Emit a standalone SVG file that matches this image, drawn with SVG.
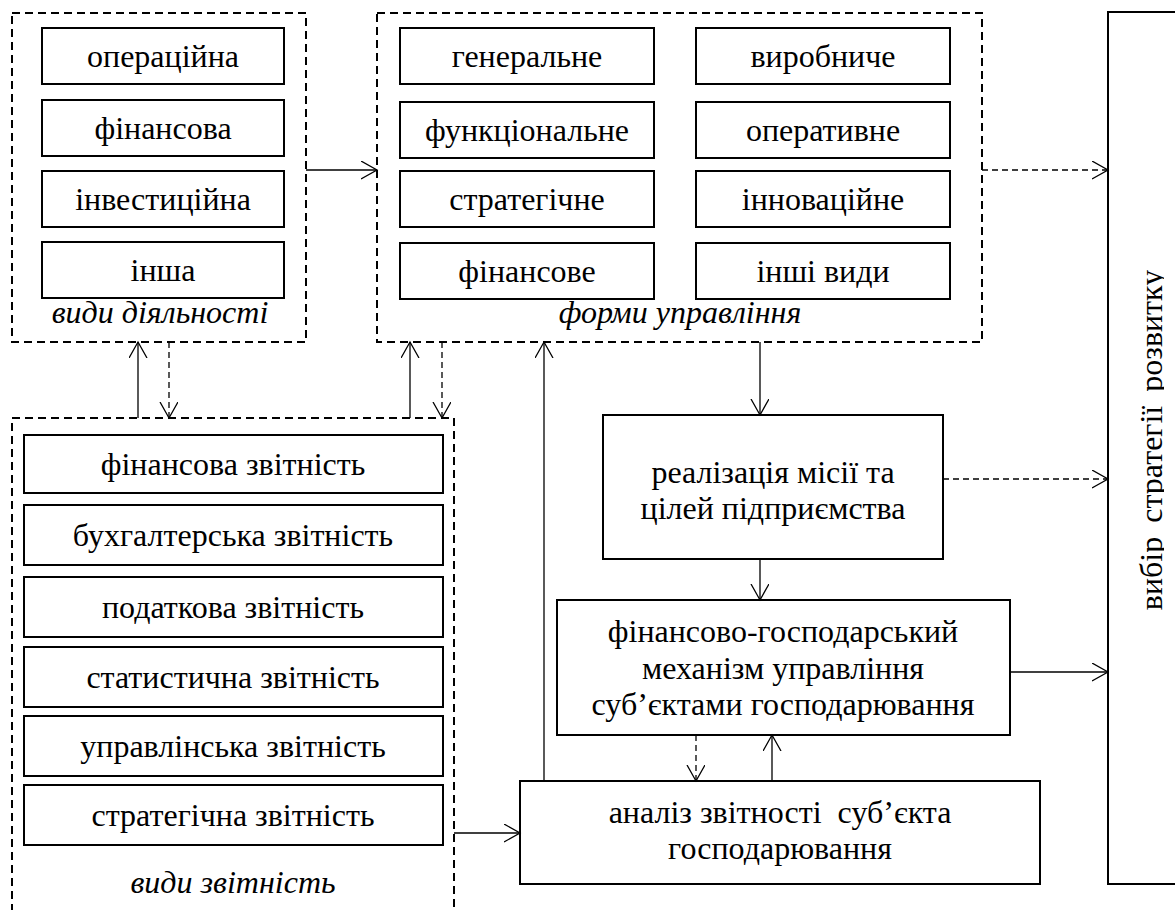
<svg xmlns="http://www.w3.org/2000/svg" width="1175" height="910" viewBox="0 0 1175 910">
<defs>
<marker id="ah" markerUnits="userSpaceOnUse" markerWidth="20" markerHeight="20" refX="16" refY="9" orient="auto"><path d="M0,0 L16,9 L0,18" fill="none" stroke="#000" stroke-width="1.3"/></marker>
<clipPath id="clipR"><rect x="1100" y="0" width="64" height="910"/></clipPath>
</defs>
<rect x="0" y="0" width="1175" height="910" fill="#fff"/>

<g id="activities" font-family="Liberation Serif, DejaVu Serif, serif" font-size="32" text-anchor="middle">
<rect x="12" y="13" width="294" height="329" fill="none" stroke="#000" stroke-width="2" stroke-dasharray="8 5"/>
<rect x="42" y="28" width="242" height="56" fill="#fff" stroke="#000" stroke-width="2"/>
<text x="163" y="67">операційна</text>
<rect x="42" y="100" width="242" height="56" fill="#fff" stroke="#000" stroke-width="2"/>
<text x="163" y="139">фінансова</text>
<rect x="42" y="171" width="242" height="56" fill="#fff" stroke="#000" stroke-width="2"/>
<text x="163" y="210">інвестиційна</text>
<rect x="42" y="242" width="242" height="56" fill="#fff" stroke="#000" stroke-width="2"/>
<text x="163" y="281">інша</text>
<text x="160" y="323" font-style="italic">види діяльності</text>
</g>

<g id="management" font-family="Liberation Serif, DejaVu Serif, serif" font-size="32" text-anchor="middle">
<rect x="377" y="13" width="605" height="329" fill="none" stroke="#000" stroke-width="2" stroke-dasharray="8 5"/>
<rect x="400" y="28" width="254" height="56" fill="#fff" stroke="#000" stroke-width="2"/>
<text x="527" y="67">генеральне</text>
<rect x="400" y="102" width="254" height="56" fill="#fff" stroke="#000" stroke-width="2"/>
<text x="527" y="141">функціональне</text>
<rect x="400" y="171" width="254" height="56" fill="#fff" stroke="#000" stroke-width="2"/>
<text x="527" y="210">стратегічне</text>
<rect x="400" y="243" width="254" height="56" fill="#fff" stroke="#000" stroke-width="2"/>
<text x="527" y="282">фінансове</text>
<rect x="696" y="28" width="254" height="56" fill="#fff" stroke="#000" stroke-width="2"/>
<text x="823" y="67">виробниче</text>
<rect x="696" y="102" width="254" height="56" fill="#fff" stroke="#000" stroke-width="2"/>
<text x="823" y="141">оперативне</text>
<rect x="696" y="171" width="254" height="56" fill="#fff" stroke="#000" stroke-width="2"/>
<text x="823" y="210">інноваційне</text>
<rect x="696" y="243" width="254" height="56" fill="#fff" stroke="#000" stroke-width="2"/>
<text x="823" y="282">інші види</text>
<text x="680" y="323" font-style="italic">форми управління</text>
</g>

<g id="reporting" font-family="Liberation Serif, DejaVu Serif, serif" font-size="32" text-anchor="middle">
<rect x="12" y="418" width="442" height="520" fill="none" stroke="#000" stroke-width="2" stroke-dasharray="8 5"/>
<rect x="24" y="435" width="419" height="58" fill="#fff" stroke="#000" stroke-width="2"/>
<text x="233" y="475">фінансова звітність</text>
<rect x="24" y="505" width="419" height="60" fill="#fff" stroke="#000" stroke-width="2"/>
<text x="233" y="546">бухгалтерська звітність</text>
<rect x="24" y="577" width="419" height="60" fill="#fff" stroke="#000" stroke-width="2"/>
<text x="233" y="618">податкова звітність</text>
<rect x="24" y="647" width="419" height="60" fill="#fff" stroke="#000" stroke-width="2"/>
<text x="233" y="688">статистична звітність</text>
<rect x="24" y="716" width="419" height="60" fill="#fff" stroke="#000" stroke-width="2"/>
<text x="233" y="757">управлінська звітність</text>
<rect x="24" y="785" width="419" height="60" fill="#fff" stroke="#000" stroke-width="2"/>
<text x="233" y="826">стратегічна звітність</text>
<text x="233" y="893" font-style="italic">види звітність</text>
</g>

<g id="strategy" font-family="Liberation Serif, DejaVu Serif, serif" font-size="32" text-anchor="middle">
<rect x="1108" y="12" width="100" height="872" fill="#fff" stroke="#000" stroke-width="2"/>
<g clip-path="url(#clipR)">
<text transform="translate(1162,440) rotate(-90)" x="0" y="0" word-spacing="6">вибір стратегії розвитку</text>
</g>
</g>

<g id="mission" font-family="Liberation Serif, DejaVu Serif, serif" font-size="32" text-anchor="middle">
<rect x="603" y="415" width="340" height="144" fill="#fff" stroke="#000" stroke-width="2"/>
<text x="773" y="483">реалізація місії та</text>
<text x="773" y="519">цілей підприємства</text>
</g>

<g id="mechanism" font-family="Liberation Serif, DejaVu Serif, serif" font-size="32" text-anchor="middle">
<rect x="557" y="600" width="453" height="135" fill="#fff" stroke="#000" stroke-width="2"/>
<text x="783" y="642">фінансово-господарський</text>
<text x="783" y="679">механізм управління</text>
<text x="783" y="715">суб’єктами господарювання</text>
</g>

<g id="analysis" font-family="Liberation Serif, DejaVu Serif, serif" font-size="32" text-anchor="middle">
<rect x="520" y="781" width="520" height="103" fill="#fff" stroke="#000" stroke-width="2"/>
<text x="780" y="823">аналіз звітності&#160; суб’єкта</text>
<text x="780" y="859">господарювання</text>
</g>

<g id="connectors" fill="none" stroke="#000" stroke-width="1.3" marker-end="url(#ah)">
<path d="M306,170 H377"/>
<path d="M982,170 H1108" stroke-dasharray="6 4"/>
<path d="M138,418 V342"/>
<path d="M169,342 V418" stroke-dasharray="6 4"/>
<path d="M410,418 V342"/>
<path d="M442,342 V418" stroke-dasharray="6 4"/>
<path d="M760,342 V415"/>
<path d="M943,479 H1108" stroke-dasharray="6 4"/>
<path d="M760,559 V600"/>
<path d="M1010,672 H1108"/>
<path d="M696,735 V781" stroke-dasharray="6 4"/>
<path d="M772,781 V735"/>
<path d="M544,781 V342"/>
<path d="M454,833 H520"/>
</g>
</svg>
